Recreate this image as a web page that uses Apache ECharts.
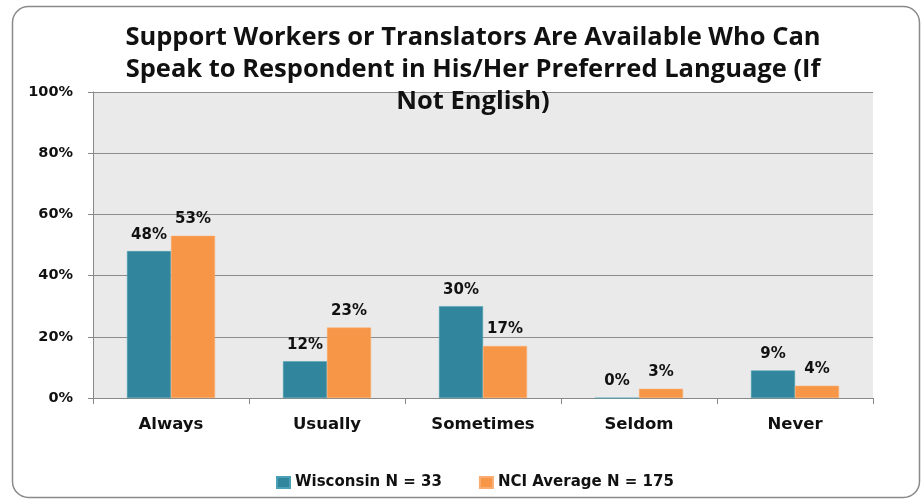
<!DOCTYPE html>
<html>
<head>
<meta charset="utf-8">
<script src="https://cdn.jsdelivr.net/npm/echarts@6/dist/echarts.min.js"></script>
<style>
  html, body { margin: 0; padding: 0; background: #ffffff; }
  #chart { width: 922px; height: 501px; }
</style>
</head>
<body>
<div id="chart"></div>
<script>
// Response categories and percentages per group
const categories = ['Always', 'Usually', 'Sometimes', 'Seldom', 'Never'];
const wisconsin = [48, 12, 30, 0, 9];
const nciAverage = [53, 23, 17, 3, 4];
const seriesNames = ['Wisconsin N = 33', 'NCI Average N = 175'];
const yTicks = [0, 20, 40, 60, 80, 100];

const chart = echarts.init(document.getElementById('chart'));

const labelStyle = {
  show: true,
  position: 'top',
  distance: 9,
  formatter: p => p.value + '%',
  fontFamily: 'DejaVu Sans',
  fontWeight: 'bold',
  fontSize: 15,
  color: '#111'
};

chart.setOption({
  animation: false,
  backgroundColor: '#ffffff',
  graphic: [{
    type: 'rect',
    shape: { x: 12.5, y: 6.5, width: 907, height: 491, r: 16 },
    style: { fill: 'none', stroke: '#8a8a8a', lineWidth: 1.5 },
    z: -1
  }],
  title: {
    text: 'Support Workers or Translators Are Available Who Can\nSpeak to Respondent in His/Her Preferred Language (If\nNot English)',
    left: 468,
    top: 17,
    textAlign: 'center',
    textStyle: {
      fontFamily: 'Open Sans',
      fontWeight: 'bold',
      fontSize: 25.5,
      lineHeight: 32,
      color: '#111'
    },
    z: 10
  },
  legend: {
    data: seriesNames,
    top: 470,
    left: 271,
    itemWidth: 13,
    itemHeight: 11,
    itemGap: 37,
    icon: 'rect',
    textStyle: {
      fontFamily: 'DejaVu Sans',
      fontWeight: 'bold',
      fontSize: 15,
      color: '#111'
    }
  },
  grid: { left: 93, right: 49, top: 92, bottom: 103 },
  xAxis: {
    type: 'category',
    data: categories,
    axisLine: { lineStyle: { color: '#888', width: 1 } },
    axisTick: { show: true, length: 6, lineStyle: { color: '#888' } },
    axisLabel: {
      margin: 18,
      fontFamily: 'DejaVu Sans',
      fontWeight: 'bold',
      fontSize: 16.5,
      color: '#111'
    }
  },
  yAxis: {
    type: 'value',
    min: yTicks[0],
    max: yTicks[yTicks.length - 1],
    interval: 20,
    axisLine: { show: true, lineStyle: { color: '#888', width: 1 } },
    axisTick: { show: true, length: 5, lineStyle: { color: '#888' } },
    axisLabel: {
      margin: 20,
      formatter: v => v + '%',
      fontFamily: 'DejaVu Sans',
      fontWeight: 'bold',
      fontSize: 14.5,
      color: '#111'
    },
    splitLine: { lineStyle: { color: '#8c8c8c', width: 1 } },
    splitArea: { show: true, areaStyle: { color: ['#eaeaea', '#eaeaea'] } }
  },
  series: [
    {
      name: seriesNames[0],
      type: 'bar',
      data: wisconsin,
      barWidth: 44,
      barGap: '0%',
      itemStyle: { color: '#31859c', borderColor: '#4aa0b5', borderWidth: 0.5 },
      label: labelStyle
    },
    {
      name: seriesNames[1],
      type: 'bar',
      data: nciAverage,
      barWidth: 44,
      barGap: '0%',
      itemStyle: { color: '#f79646', borderColor: '#f9ad72', borderWidth: 0.5 },
      label: labelStyle
    }
  ]
});
</script>
</body>
</html>
